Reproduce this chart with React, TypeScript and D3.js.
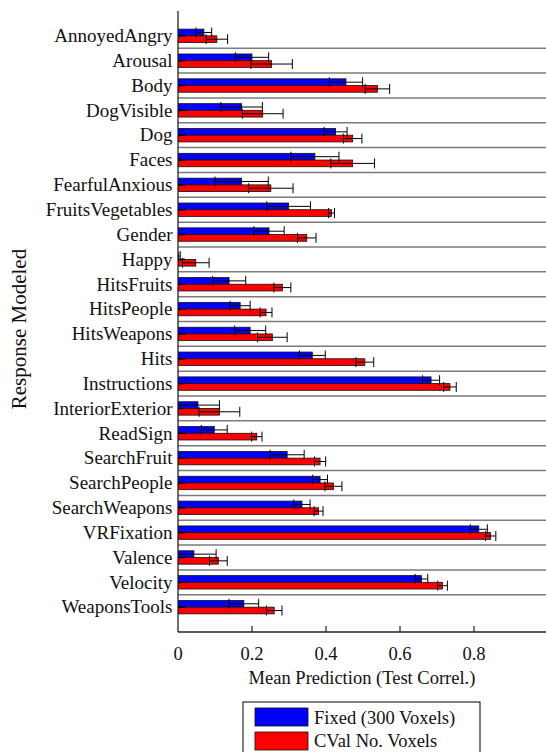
import * as d3 from "d3";
import { useEffect, useRef } from "react";

const categories = [
  "AnnoyedAngry", "Arousal", "Body", "DogVisible", "Dog", "Faces",
  "FearfulAnxious", "FruitsVegetables", "Gender", "Happy", "HitsFruits",
  "HitsPeople", "HitsWeapons", "Hits", "Instructions", "InteriorExterior",
  "ReadSign", "SearchFruit", "SearchPeople", "SearchWeapons", "VRFixation",
  "Valence", "Velocity", "WeaponsTools",
];
const fixedMean = [0.070, 0.200, 0.454, 0.172, 0.426, 0.370, 0.172, 0.299, 0.246, 0.002, 0.138, 0.168, 0.195, 0.363, 0.684, 0.054, 0.098, 0.295, 0.384, 0.335, 0.813, 0.043, 0.658, 0.178];
const fixedErr = [0.021, 0.045, 0.045, 0.056, 0.031, 0.065, 0.072, 0.059, 0.041, 0.004, 0.045, 0.027, 0.042, 0.035, 0.023, 0.058, 0.035, 0.046, 0.020, 0.022, 0.023, 0.060, 0.017, 0.040];
const cvalMean = [0.105, 0.253, 0.539, 0.229, 0.472, 0.472, 0.251, 0.415, 0.348, 0.048, 0.282, 0.238, 0.255, 0.505, 0.735, 0.112, 0.213, 0.384, 0.420, 0.380, 0.845, 0.109, 0.715, 0.260];
const cvalErr = [0.029, 0.056, 0.033, 0.055, 0.025, 0.059, 0.060, 0.008, 0.025, 0.036, 0.023, 0.016, 0.040, 0.024, 0.017, 0.055, 0.014, 0.015, 0.023, 0.012, 0.014, 0.024, 0.013, 0.021];
const xTicks = [0, 0.2, 0.4, 0.6, 0.8];
const seriesNames = ["Fixed (300 Voxels)", "CVal No. Voxels"];
const seriesColors = ["#0000ff", "#ff0000"];

export default function App() {
  const ref = useRef<SVGSVGElement>(null);

  useEffect(() => {
    const width = 546, height = 752;
    const svg = d3.select(ref.current);
    svg.selectAll("*").remove();
    svg.attr("width", width).attr("height", height)
      .style("font-family", "'Liberation Serif', 'Times New Roman', Times, serif");

    const x = d3.scaleLinear().domain([0, 1]).range([178, 548]);
    const y = d3.scaleLinear().domain([0, 25]).range([11, 632]);
    const half = 0.27;

    svg.append("defs").append("clipPath").attr("id", "plot")
      .append("rect").attr("x", x(0)).attr("y", y(0)).attr("width", 400).attr("height", y(25) - y(0));

    // row separators
    svg.append("g").selectAll("line")
      .data(d3.range(1, categories.length))
      .join("line")
      .attr("x1", x(0)).attr("x2", width)
      .attr("y1", d => y(d + 0.5)).attr("y2", d => y(d + 0.5))
      .attr("stroke", "#7a7a7a").attr("stroke-width", 1.5);

    const rows = categories.map((c, i) => ({
      name: c, pos: i + 1,
      series: [
        { m: fixedMean[i], e: fixedErr[i], off: -half },
        { m: cvalMean[i], e: cvalErr[i], off: 0 },
      ],
    }));

    const plot = svg.append("g").attr("clip-path", "url(#plot)");

    const row = plot.selectAll("g.row").data(rows).join("g").attr("class", "row");

    row.selectAll("rect")
      .data(d => d.series.map((s, k) => ({ ...s, k, pos: d.pos })))
      .join("rect")
      .attr("x", x(0))
      .attr("y", d => y(d.pos + d.off))
      .attr("width", d => x(d.m) - x(0))
      .attr("height", y(half) - y(0))
      .attr("fill", d => seriesColors[d.k])
      .attr("stroke", "#111")
      .attr("stroke-width", 0.8);

    row.append("line")
      .attr("x1", x(0)).attr("x2", x(0) + 7)
      .attr("y1", d => y(d.pos)).attr("y2", d => y(d.pos))
      .attr("stroke", "#000").attr("stroke-width", 1.5);

    const err = row.selectAll("g.err")
      .data(d => d.series.map(s => ({ ...s, cy: y(d.pos + s.off + half / 2) })))
      .join("g").attr("class", "err")
      .attr("stroke", "#000").attr("stroke-width", 1);
    err.append("line")
      .attr("x1", d => x(d.m - d.e)).attr("x2", d => x(d.m + d.e))
      .attr("y1", d => d.cy).attr("y2", d => d.cy);
    [-1, 1].forEach(sg => {
      err.append("line")
        .attr("x1", d => x(d.m + sg * d.e)).attr("x2", d => x(d.m + sg * d.e))
        .attr("y1", d => d.cy - 5).attr("y2", d => d.cy + 5);
    });

    // axes
    svg.append("line").attr("x1", x(0)).attr("x2", x(0)).attr("y1", y(0)).attr("y2", y(25))
      .attr("stroke", "#222").attr("stroke-width", 1.3);
    svg.append("line").attr("x1", x(0)).attr("x2", width).attr("y1", y(25)).attr("y2", y(25))
      .attr("stroke", "#222").attr("stroke-width", 1.3);

    svg.append("g").selectAll("line").data(xTicks.slice(1)).join("line")
      .attr("x1", d => x(d)).attr("x2", d => x(d))
      .attr("y1", y(25)).attr("y2", y(25) - 6)
      .attr("stroke", "#222").attr("stroke-width", 1.2);

    svg.append("g").selectAll("text").data(xTicks).join("text")
      .attr("x", d => x(d)).attr("y", 660)
      .attr("text-anchor", "middle")
      .attr("font-size", 18.5).attr("fill", "#111")
      .text(d => (d === 0 ? "0" : d3.format(".1f")(d)));

    svg.append("g").selectAll("text").data(rows).join("text")
      .attr("x", 172.5).attr("y", d => y(d.pos)).attr("dy", "0.33em")
      .attr("text-anchor", "end")
      .attr("font-size", 19).attr("fill", "#111")
      .text(d => d.name);

    svg.append("text")
      .attr("x", (x(0) + 548) / 2 - 1).attr("y", 684)
      .attr("text-anchor", "middle")
      .attr("font-size", 18.5).attr("fill", "#111")
      .text("Mean Prediction (Test Correl.)");

    svg.append("text")
      .attr("transform", `translate(26,${329}) rotate(-90)`)
      .attr("text-anchor", "middle")
      .attr("font-size", 21).attr("fill", "#111")
      .text("Response Modeled");

    // legend
    const lg = svg.append("g");
    lg.append("rect").attr("x", 243).attr("y", 702).attr("width", 237).attr("height", 70)
      .attr("fill", "#fff").attr("stroke", "#000").attr("stroke-width", 1);
    seriesNames.forEach((n, i) => {
      lg.append("rect").attr("x", 255).attr("y", 708 + i * 24).attr("width", 53).attr("height", 18)
        .attr("fill", seriesColors[i]).attr("stroke", "#111").attr("stroke-width", 0.8);
      lg.append("text").attr("x", 314).attr("y", 723.5 + i * 23.5)
        .attr("font-size", 18.5).attr("fill", "#111")
        .text(n);
    });
  }, []);

  return <svg ref={ref} style={{ position: "absolute", left: 0, top: 0 }}></svg>;
}
